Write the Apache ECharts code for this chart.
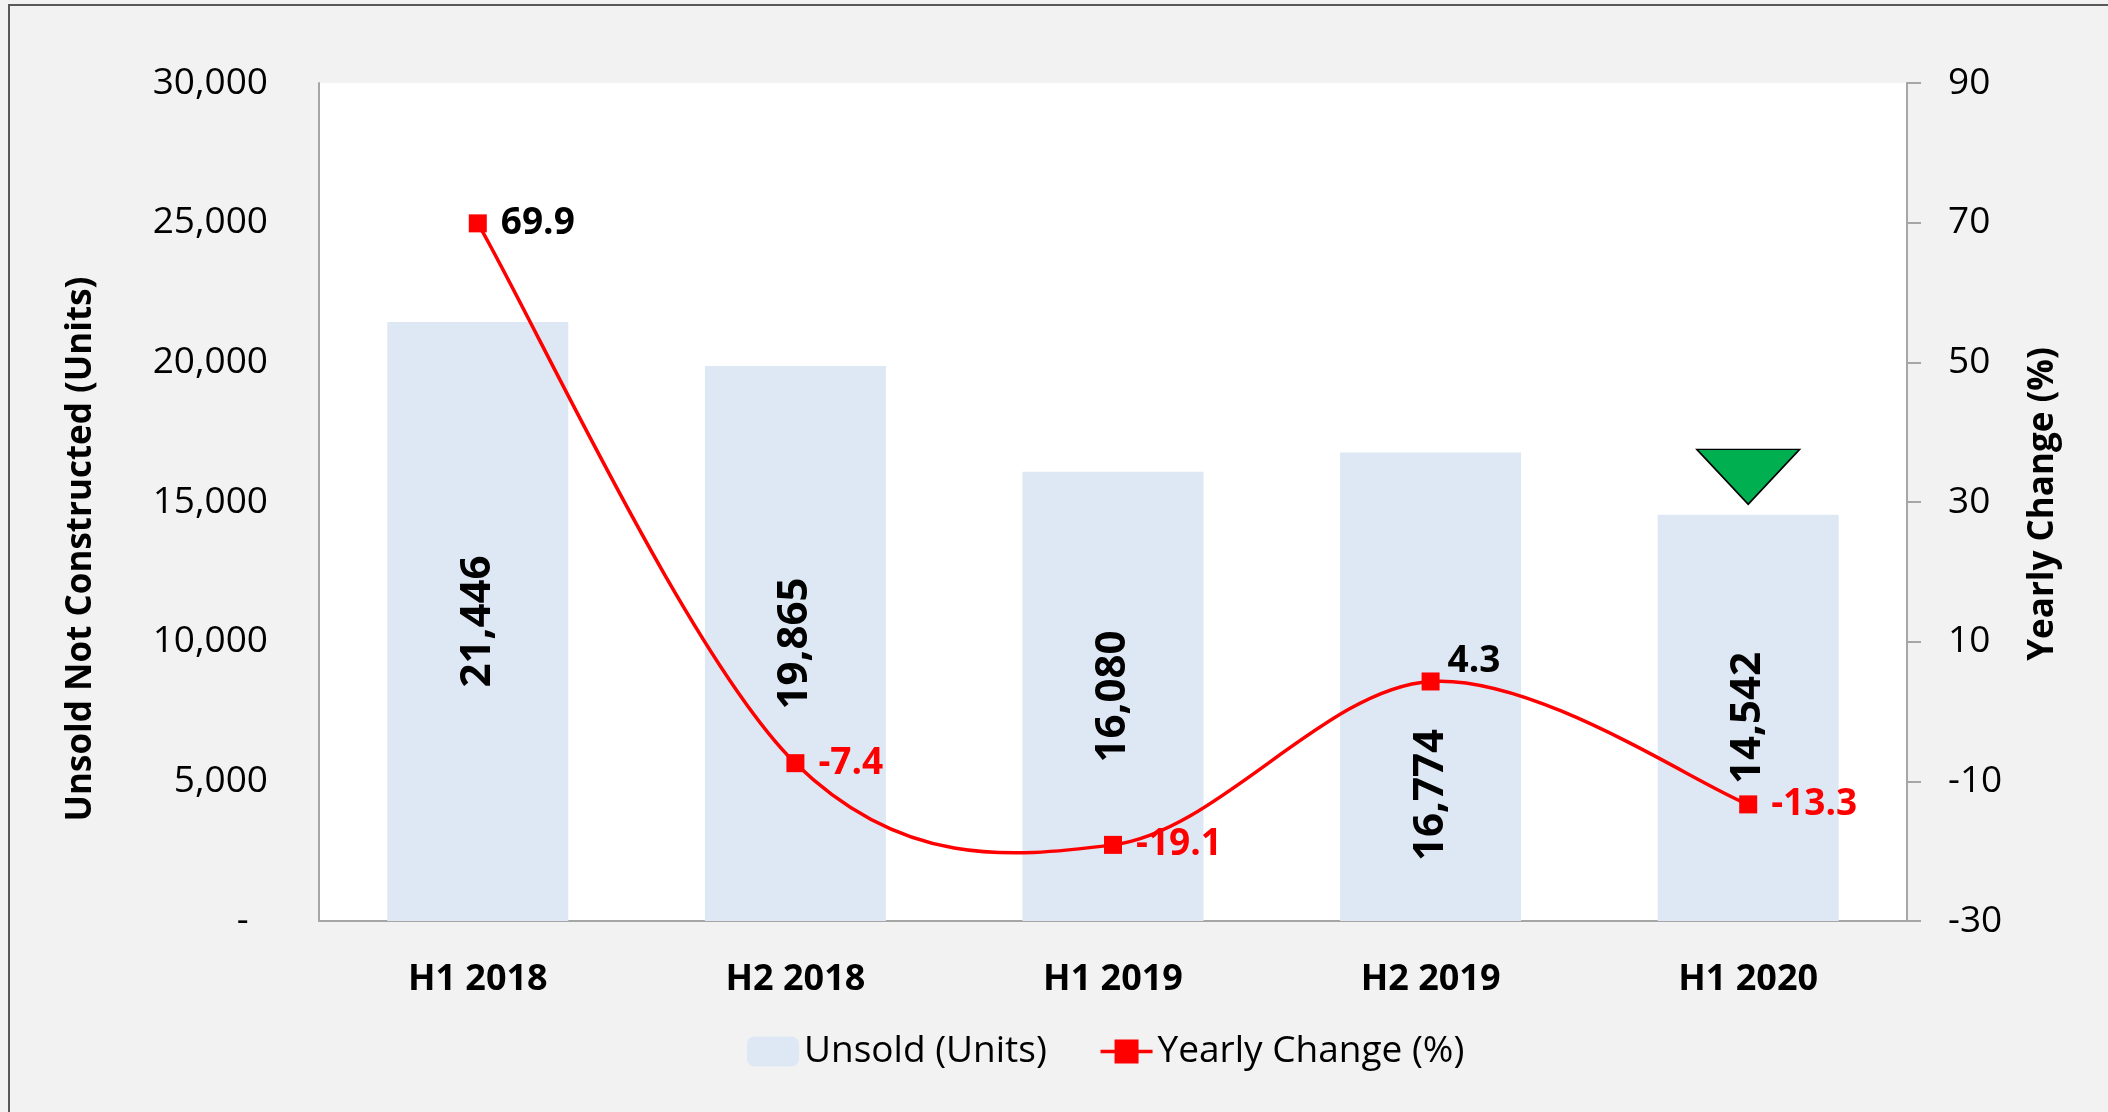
<!DOCTYPE html>
<html>
<head>
<meta charset="utf-8">
<script src="https://cdn.jsdelivr.net/npm/echarts@6/dist/echarts.min.js"></script>
<style>
  html, body { margin: 0; padding: 0; background: #f2f2f2; }
  #chart { width: 2108px; height: 1112px; }
</style>
</head>
<body>
<div id="chart"></div>
<script>
// data
const periods = ['H1 2018', 'H2 2018', 'H1 2019', 'H2 2019', 'H1 2020'];
const unsoldUnits = [21446, 19865, 16080, 16774, 14542];
const yearlyChange = [69.9, -7.4, -19.1, 4.3, -13.3];

const leftTicks = { min: 0, max: 30000, step: 5000 };
const rightTicks = { min: -30, max: 90, step: 20 };

const FONT = '"Open Sans", "Noto Sans", sans-serif';
const RED = '#ff0000';

const chart = echarts.init(document.getElementById('chart'));

// bar data; the H2 2019 label sits lower so it clears the line point
const barData = unsoldUnits.map((v, i) => {
  if (periods[i] !== 'H2 2019') return v;
  return {
    value: v,
    label: { position: 'insideBottom', distance: 60, align: 'left', verticalAlign: 'middle' }
  };
});

const lineData = yearlyChange.map((v, i) => {
  const item = { value: v, label: { color: v < 0 ? RED : '#000000' } };
  if (periods[i] === 'H2 2019') item.label.offset = [-6, -20];
  return item;
});

// excel-like smoothed segment (catmull-rom, 1/6 tangents), points taken from the axes
function renderSegment(params, api) {
  const i = params.dataIndex;
  const n = yearlyChange.length;
  if (i >= n - 1) return null;
  const pt = k => api.coord([Math.max(0, Math.min(n - 1, k)), yearlyChange[Math.max(0, Math.min(n - 1, k))]]);
  const p0 = pt(i - 1), p1 = pt(i), p2 = pt(i + 1), p3 = pt(i + 2);
  return {
    type: 'bezierCurve',
    silent: true,
    shape: {
      x1: p1[0], y1: p1[1],
      cpx1: p1[0] + (p2[0] - p0[0]) / 6, cpy1: p1[1] + (p2[1] - p0[1]) / 6,
      cpx2: p2[0] - (p3[0] - p1[0]) / 6, cpy2: p2[1] - (p3[1] - p1[1]) / 6,
      x2: p2[0], y2: p2[1]
    },
    style: { stroke: RED, lineWidth: 3.5, fill: null }
  };
}

const option = {
  backgroundColor: '#f2f2f2',
  textStyle: { fontFamily: FONT },
  animation: false,
  grid: {
    left: 319, right: 201, top: 83, bottom: 191,
    show: true, backgroundColor: '#ffffff', borderWidth: 0
  },
  legend: {
    left: 742, top: 1028,
    itemWidth: 52, itemHeight: 30, itemGap: 52,
    textStyle: { fontFamily: FONT, fontSize: 37, color: '#000' },
    data: [
      'Unsold (Units)',
      { name: 'Yearly Change (%)', lineStyle: { opacity: 1, width: 3.5 } }
    ]
  },
  xAxis: {
    type: 'category',
    data: periods,
    axisLine: { lineStyle: { color: '#a6a6a6', width: 2 } },
    axisTick: { show: false },
    axisLabel: { margin: 41, fontSize: 36, fontWeight: 'bold', color: '#000', fontFamily: FONT }
  },
  yAxis: [
    {
      type: 'value',
      min: leftTicks.min, max: leftTicks.max, interval: leftTicks.step,
      splitLine: { show: false },
      axisLine: { show: true, lineStyle: { color: '#a6a6a6', width: 2 } },
      axisTick: { show: false },
      axisLabel: {
        margin: 51, fontSize: 37, color: '#000', fontFamily: FONT,
        formatter: v => v === 0 ? '-  ' : v.toLocaleString('en-US')
      }
    },
    {
      type: 'value',
      position: 'right',
      min: rightTicks.min, max: rightTicks.max, interval: rightTicks.step,
      splitLine: { show: false },
      axisLine: { show: true, lineStyle: { color: '#a6a6a6', width: 2 } },
      axisTick: { show: true, length: 14, lineStyle: { color: '#a6a6a6', width: 2 } },
      axisLabel: { margin: 41, fontSize: 37, color: '#000', fontFamily: FONT }
    }
  ],
  series: [
    {
      name: 'Unsold (Units)',
      type: 'bar',
      yAxisIndex: 0,
      barCategoryGap: '43%',
      data: barData,
      itemStyle: { color: '#dee8f4' },
      label: {
        show: true, position: 'inside', rotate: 90,
        fontSize: 42, fontWeight: 'bold', color: '#000', fontFamily: FONT,
        formatter: p => p.value.toLocaleString('en-US')
      },
      markPoint: {
        silent: true,
        label: { show: false },
        data: [{
          coord: ['H1 2020', 15900],
          symbol: 'triangle', symbolRotate: 180, symbolSize: [103, 55],
          itemStyle: { color: '#00b050', borderColor: '#000', borderWidth: 1.5 }
        }]
      }
    },
    {
      type: 'custom',
      yAxisIndex: 1,
      silent: true,
      renderItem: renderSegment,
      encode: { x: 0, y: 1 },
      data: yearlyChange.map((v, i) => [i, v]),
      z: 4
    },
    {
      name: 'Yearly Change (%)',
      type: 'line',
      yAxisIndex: 1,
      data: lineData,
      symbol: 'rect',
      symbolSize: 18,
      lineStyle: { color: RED, width: 3.5, opacity: 0 },
      itemStyle: { color: RED },
      label: {
        show: true, position: 'right', distance: 14,
        fontSize: 37, fontWeight: 'bold', fontFamily: FONT,
        formatter: p => p.value.toFixed(1)
      },
      z: 5
    }
  ],
  graphic: [
    {
      type: 'rect', z: -1, silent: true,
      shape: { x: 9, y: 5, width: 2300, height: 1300 },
      style: { fill: 'none', stroke: '#595959', lineWidth: 2 }
    },
    {
      type: 'text', x: 81, y: 549, rotation: Math.PI / 2, silent: true,
      style: {
        text: 'Unsold Not Constructed (Units)', fontSize: 35, fontWeight: 'bold',
        fontFamily: FONT, fill: '#000', align: 'center', verticalAlign: 'middle'
      }
    },
    {
      type: 'text', x: 2043, y: 504, rotation: Math.PI / 2, silent: true,
      style: {
        text: 'Yearly Change (%)', fontSize: 35, fontWeight: 'bold',
        fontFamily: FONT, fill: '#000', align: 'center', verticalAlign: 'middle'
      }
    }
  ]
};

chart.setOption(option);
</script>
</body>
</html>
